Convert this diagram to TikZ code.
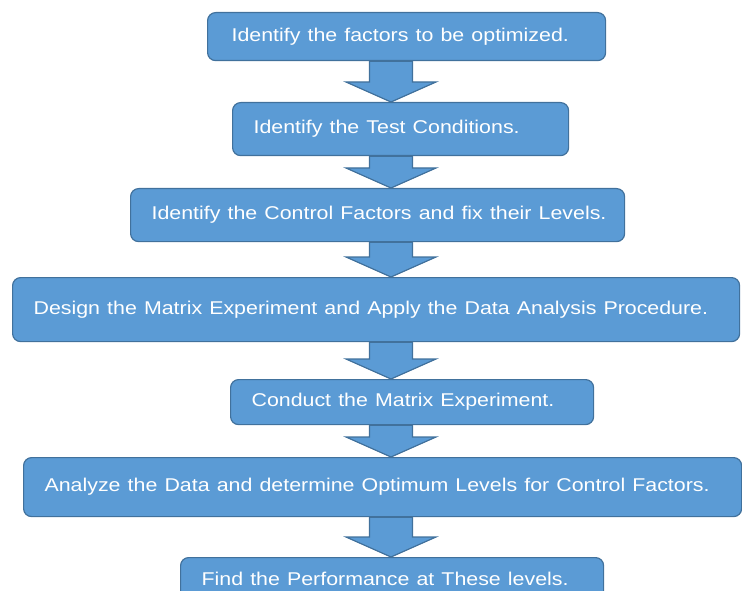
\documentclass[tikz,border=0pt]{standalone}
\usepackage{fontspec}
\setmainfont{Liberation Sans}
\usetikzlibrary{calc}
\definecolor{boxfill}{HTML}{5B9BD5}
\definecolor{boxline}{HTML}{41719C}
% wide step label, stretched horizontally
\newcommand\steplabel[1]{\scalebox{1.155}[1]{#1}}
% block arrow from the bottom of one step to the top of the next
\newcommand\flowarrow[2]{%
  \path let \p1=(#1.south), \p2=(#2.north) in
    [flowarrowstyle] (369.5pt,\y1) -- (369.5pt,\y2+20pt) -- (346pt,\y2+20pt)
    -- (391pt,\y2) -- (436pt,\y2+20pt) -- (412.5pt,\y2+20pt) -- (412.5pt,\y1) -- cycle;}
\tikzset{
  stepbox/.style={draw=boxline, line width=1.2pt, fill=boxfill, rounded corners=8pt,
    anchor=north west, text=white, align=left, inner ysep=0pt, inner xsep=21pt,
    font=\fontsize{18.5}{22}\selectfont},
  flowarrowstyle/.style={draw=boxline, line width=1.2pt, fill=boxfill, line join=miter},
}
\begin{document}
\begin{tikzpicture}[x=1pt,y=-1pt]
\useasboundingbox (0,0) rectangle (742,591);
\clip (0,0) rectangle (742,591);
\node[stepbox, text width=356pt, minimum height=48pt] (b1) at (207,12)
  {\hspace*{3pt}\steplabel{Identify the factors to be optimized.}};
\node[stepbox, text width=294pt, minimum height=53pt] (b2) at (232,102)
  {\steplabel{Identify the Test Conditions.}};
\node[stepbox, text width=452pt, minimum height=53pt] (b3) at (130,188)
  {\steplabel{Identify the Control Factors and fix their Levels.}};
\node[stepbox, text width=685pt, minimum height=64pt] (b4) at (12,277)
  {\steplabel{Design the Matrix Experiment and Apply the Data Analysis Procedure.}};
\node[stepbox, text width=321pt, minimum height=45pt] (b5) at (230,379)
  {\steplabel{Conduct the Matrix Experiment.}};
\node[stepbox, text width=676pt, minimum height=59pt] (b6) at (23,457)
  {\steplabel{Analyze the Data and determine Optimum Levels for Control Factors.}};
\node[stepbox, text width=381pt, minimum height=50pt] (b7) at (180,557)
  {\raisebox{8pt}{\steplabel{Find the Performance at These levels.}}};
\flowarrow{b1}{b2}
\flowarrow{b2}{b3}
\flowarrow{b3}{b4}
\flowarrow{b4}{b5}
\flowarrow{b5}{b6}
\flowarrow{b6}{b7}
\end{tikzpicture}
\end{document}
